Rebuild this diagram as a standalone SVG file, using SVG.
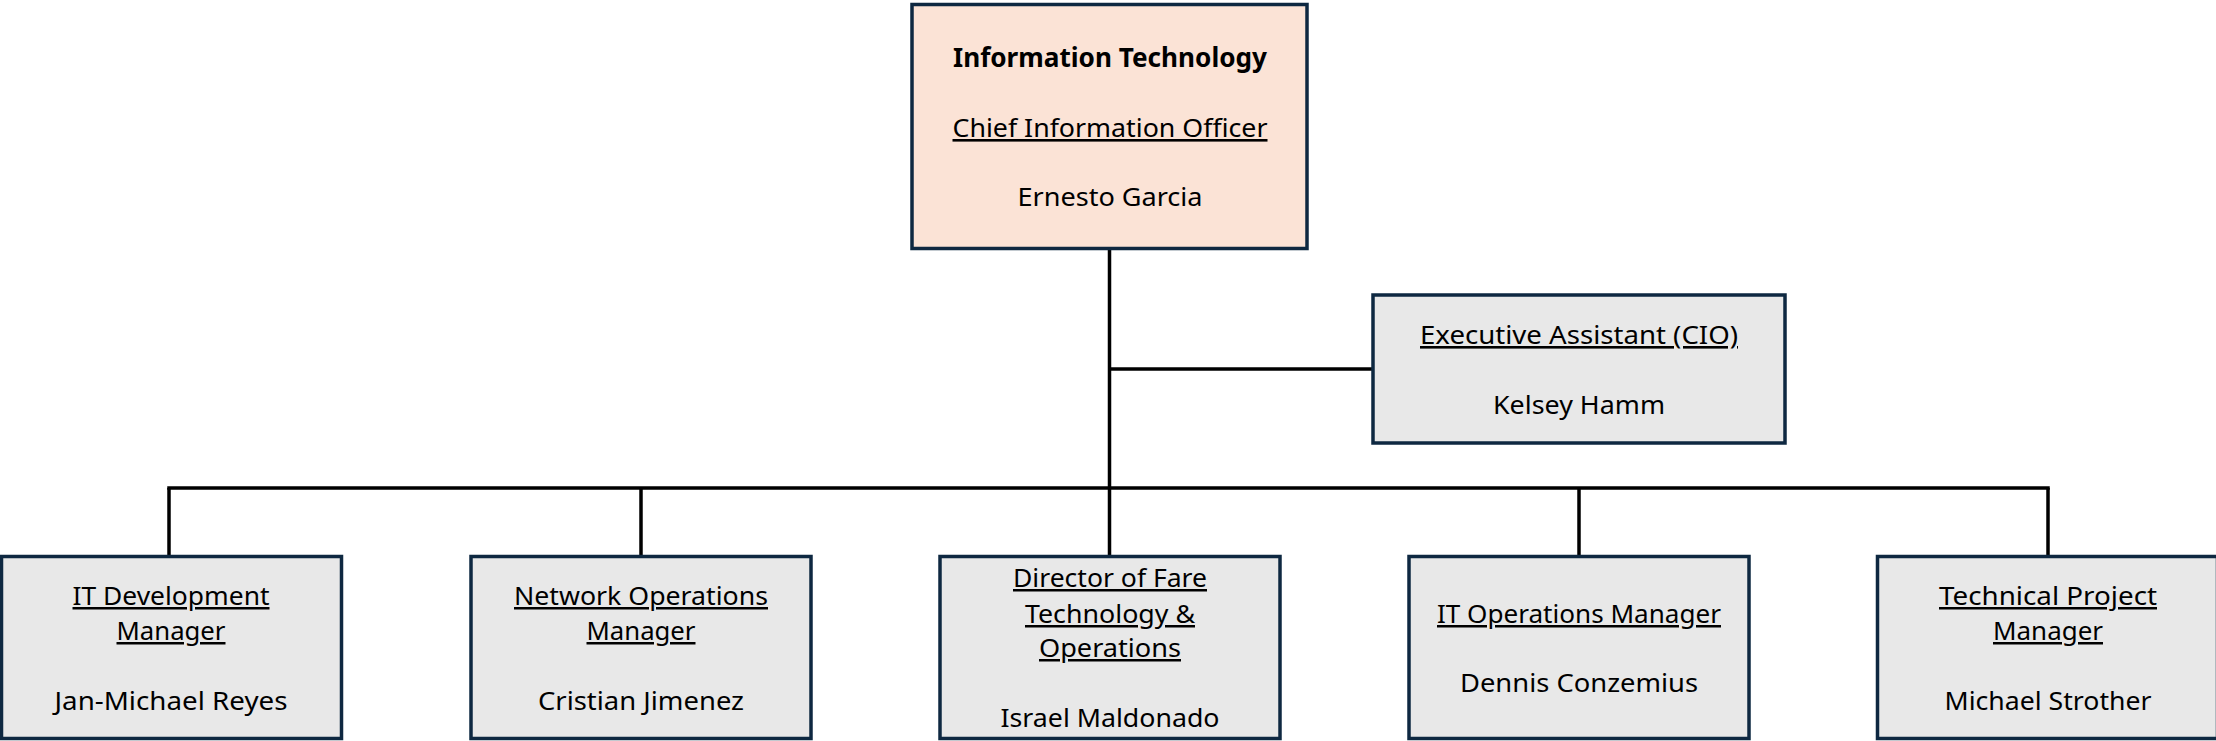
<svg xmlns="http://www.w3.org/2000/svg" width="2216" height="741" viewBox="0 0 2216 741">
<style>
.box{stroke:#0E2841;stroke-width:3.5}
.top{fill:#FBE3D6}
.grey{fill:#E8E8E8}
.conn{stroke:#000;stroke-width:3.5;fill:none}
text{font-family:"Noto Sans","Open Sans","Liberation Sans",sans-serif;font-size:25px;fill:#000;text-anchor:middle}
.b{font-weight:bold;font-size:26px}
.t{font-size:26px}
.u{text-decoration:underline}
</style>
<rect width="2216" height="741" fill="#fff"/>
<g id="connectors">
<line class="conn" x1="1109.5" y1="250" x2="1109.5" y2="556"/>
<line class="conn" x1="1109.5" y1="369" x2="1373" y2="369"/>
<line class="conn" x1="167.25" y1="488" x2="2049.75" y2="488"/>
<line class="conn" x1="169" y1="488" x2="169" y2="556"/>
<line class="conn" x1="641" y1="488" x2="641" y2="556"/>
<line class="conn" x1="1579" y1="488" x2="1579" y2="556"/>
<line class="conn" x1="2048" y1="488" x2="2048" y2="556"/>
</g>
<g id="node-cio">
<rect class="box top" x="912" y="4.5" width="395" height="244"/>
<text class="b" x="1110" y="67" textLength="314" lengthAdjust="spacingAndGlyphs">Information Technology</text>
<text class="t u" x="1110" y="137" textLength="315" lengthAdjust="spacingAndGlyphs">Chief Information Officer</text>
<text class="t" x="1110" y="206" textLength="185" lengthAdjust="spacingAndGlyphs">Ernesto Garcia</text>
</g>
<g id="node-exec">
<rect class="box grey" x="1373" y="295" width="412" height="148"/>
<text class="t u" x="1579" y="344" textLength="318" lengthAdjust="spacingAndGlyphs">Executive Assistant (CIO)</text>
<text class="t" x="1579" y="414" textLength="172" lengthAdjust="spacingAndGlyphs">Kelsey Hamm</text>
</g>
<g id="node-itdev">
<rect class="box grey" x="1.5" y="556.5" width="340" height="182"/>
<text class="u" x="171" y="605" textLength="197" lengthAdjust="spacingAndGlyphs">IT Development</text>
<text class="u" x="171" y="640" textLength="109" lengthAdjust="spacingAndGlyphs">Manager</text>
<text x="171" y="710" textLength="233" lengthAdjust="spacingAndGlyphs">Jan-Michael Reyes</text>
</g>
<g id="node-netops">
<rect class="box grey" x="471" y="556.5" width="340" height="182"/>
<text class="u" x="641" y="605" textLength="254" lengthAdjust="spacingAndGlyphs">Network Operations</text>
<text class="u" x="641" y="640" textLength="109" lengthAdjust="spacingAndGlyphs">Manager</text>
<text x="641" y="710" textLength="206" lengthAdjust="spacingAndGlyphs">Cristian Jimenez</text>
</g>
<g id="node-fare">
<rect class="box grey" x="940" y="556.5" width="340" height="182"/>
<text class="u" x="1110" y="587" textLength="194" lengthAdjust="spacingAndGlyphs">Director of Fare</text>
<text class="u" x="1110" y="623" textLength="170" lengthAdjust="spacingAndGlyphs">Technology &amp;</text>
<text class="u" x="1110" y="657" textLength="142" lengthAdjust="spacingAndGlyphs">Operations</text>
<text x="1110" y="727" textLength="219" lengthAdjust="spacingAndGlyphs">Israel Maldonado</text>
</g>
<g id="node-itops">
<rect class="box grey" x="1409" y="556.5" width="340" height="182"/>
<text class="u" x="1579" y="623" textLength="284" lengthAdjust="spacingAndGlyphs">IT Operations Manager</text>
<text x="1579" y="692" textLength="238" lengthAdjust="spacingAndGlyphs">Dennis Conzemius</text>
</g>
<g id="node-tpm">
<rect class="box grey" x="1877.5" y="556.5" width="340" height="182"/>
<text class="u" x="2048" y="605" textLength="218" lengthAdjust="spacingAndGlyphs">Technical Project</text>
<text class="u" x="2048" y="640" textLength="110" lengthAdjust="spacingAndGlyphs">Manager</text>
<text x="2048" y="710" textLength="207" lengthAdjust="spacingAndGlyphs">Michael Strother</text>
</g>
</svg>
